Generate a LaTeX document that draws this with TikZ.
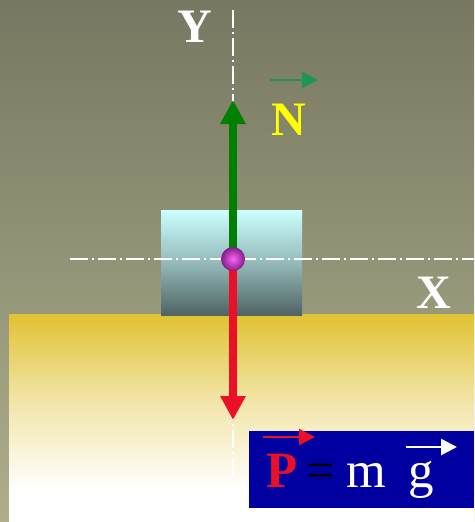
\documentclass[tikz,border=0pt]{standalone}
\usepackage{fontspec}
\setmainfont{Liberation Serif}
\usetikzlibrary{arrows.meta}
\definecolor{bgtop}{RGB}{120,120,98}
\definecolor{bgbot}{RGB}{174,174,140}
\definecolor{grnd}{RGB}{224,194,50}
\definecolor{boxtop}{RGB}{204,255,255}
\definecolor{boxbot}{RGB}{80,100,100}
\definecolor{ngreen}{RGB}{0,128,0}
\definecolor{sgreen}{RGB}{30,150,80}
\definecolor{pred}{RGB}{235,16,40}
\definecolor{eqblue}{RGB}{0,0,160}
\definecolor{nyellow}{RGB}{255,255,0}
\definecolor{ballin}{RGB}{250,100,250}
\definecolor{ballout}{RGB}{130,30,130}
\tikzset{
  axisline/.style={white, line width=1.8pt, dash pattern=on 18pt off 4pt on 2pt off 4pt},
  force/.style={line width=8pt, -{Triangle[width=24pt,length=24pt]}},
  vecmark/.style={line width=2.5pt, -{Triangle[width=16pt,length=16pt]}},
  biglbl/.style={inner sep=0pt, anchor=base, font=\fontsize{48}{48}\selectfont\bfseries},
  eqlbl/.style={inner sep=0pt, anchor=base, font=\fontsize{51}{51}\selectfont},
}
\begin{document}
\begin{tikzpicture}[x=1pt,y=-1pt]
\useasboundingbox (0,0) rectangle (474,522);
\shade[top color=bgtop,bottom color=bgbot] (0,0) rectangle (474,522);
\fill[white] (9,488) rectangle (474,522);
\shade[top color=grnd,bottom color=white,middle color=grnd!42!white] (9,314) rectangle (474,490);
\node[inner sep=0pt, minimum width=141pt, minimum height=105pt, top color=boxtop, bottom color=boxbot, middle color=boxtop!55!boxbot] (block) at (231.5,262.5) {};
\draw[axisline] (233,10) -- (233,516);
\draw[axisline] (70,259) -- (474,259);
\coordinate (ctr) at (233,259);
\coordinate (ntip) at (233,100);
\coordinate (ptip) at (233,420);
\draw[force, ngreen] (ctr) -- (ntip);
\draw[force, pred] (ctr) -- (ptip);
\node[circle, minimum size=24pt, inner sep=0pt, inner color=ballin, outer color=ballout] (ball) at (ctr) {};
\node[biglbl, white] (ylab) at (195,42) {Y};
\node[biglbl, nyellow] (nlab) at (289,135) {N};
\node[biglbl, white] (xlab) at (434,308) {X};
\coordinate (nvs) at (270,80);
\coordinate (nve) at (318,80);
\draw[vecmark, sgreen] (nvs) -- (nve);
\node[fill=eqblue, inner sep=0pt, minimum width=225pt, minimum height=77pt] (eqbox) at (361.5,469.5) {};
\node[eqlbl, pred, font=\fontsize{51}{51}\selectfont\bfseries] (plab) at (282,487) {P};
\node[eqlbl, black] (eqsign) at (321,487) {=};
\node[eqlbl, white] (mlab) at (366,487) {m};
\node[eqlbl, white] (glab) at (421,487) {g};
\coordinate (pvs) at (263,437);
\coordinate (pve) at (315,437);
\draw[vecmark, pred] (pvs) -- (pve);
\coordinate (gvs) at (406,447);
\coordinate (gve) at (457,447);
\draw[vecmark, white] (gvs) -- (gve);
\end{tikzpicture}
\end{document}
